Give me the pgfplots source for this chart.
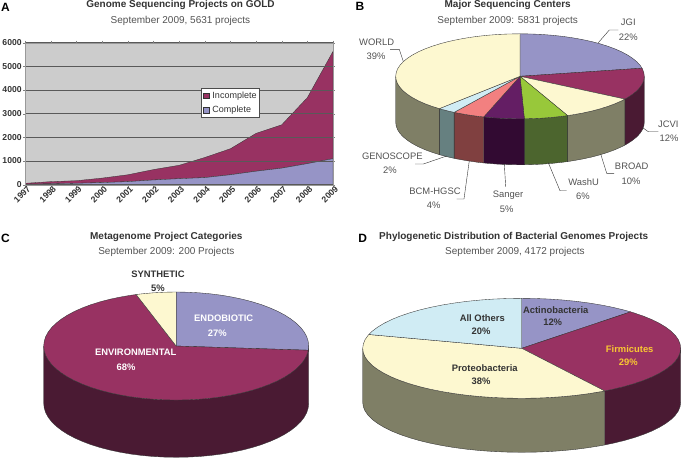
\documentclass[border=0pt]{standalone}
\usepackage{fontspec}
\setmainfont{Liberation Sans}
\usepackage{pgfplots}
\pgfplotsset{compat=1.18}

\definecolor{pblue}{HTML}{9694C6}
\definecolor{maroon}{HTML}{983262}
\definecolor{cream}{HTML}{FDF8D0}
\definecolor{lblue}{HTML}{D0ECF4}
\definecolor{salmon}{HTML}{F28080}
\definecolor{dpurple}{HTML}{641E64}
\definecolor{lime}{HTML}{98C83A}
\definecolor{wolive}{HTML}{7F7F66}
\definecolor{wmaroon}{HTML}{4A1A33}
\definecolor{wpurple}{HTML}{320A32}
\definecolor{wgreen}{HTML}{4C652E}
\definecolor{wsalmon}{HTML}{804040}
\definecolor{wteal}{HTML}{668080}
\definecolor{edge}{HTML}{333333}
\definecolor{txt}{HTML}{333333}

% one pie slice: centre, then the arc on the unit circle
\newcommand{\slice}[2]{\addplot[fill=#1,draw=edge,line width=0.35pt] coordinates {(0,0) #2} -- cycle;}
% side wall: rows are x y flag, flag 1 = on the lower rim (y moved down by the depth \pd)
\newcommand{\wall}[2]{\addplot[fill=#1,draw=edge,line width=0.35pt] table[row sep=\\,header=false,x index=0,y expr=\thisrowno{1}-\pd*\thisrowno{2}] {#2} -- cycle;}
\pgfplotsset{
  pie/.style={hide axis,scale only axis,clip=false,xmin=-1,xmax=1,ymax=1,anchor=north west}
}
\tikzset{
  panel/.style={font=\fontsize{12}{14}\selectfont\bfseries,text=black},
  ttl/.style={font=\fontsize{10}{12}\selectfont\bfseries,text=txt},
  sub/.style={font=\fontsize{10}{12}\selectfont,text=txt!85},
  lab/.style={font=\fontsize{9.4}{11}\selectfont,text=txt!85},
  blab/.style={font=\fontsize{9.4}{11}\selectfont\bfseries,text=txt},
  wlab/.style={font=\fontsize{9.4}{11}\selectfont\bfseries,text=white},
  lead/.style={draw=txt,line width=0.4pt}
}

\begin{document}
\begin{tikzpicture}[x=1pt,y=-1pt]
\path[use as bounding box] (0,0) rectangle (681,458);

% A: area chart
\begin{axis}[
    at={(25.3pt,-42.7pt)},anchor=north west,
    scale only axis,width=307.7pt,height=142pt,
    stack plots=y,area style,
    xmin=1997,xmax=2009,ymin=0,ymax=6000,
    xtick={1997,1998,1999,2000,2001,2002,2003,2004,2005,2006,2007,2008,2009},
    ytick={0,1000,2000,3000,4000,5000,6000},
    /pgf/number format/assume math mode=true,
    /pgf/number format/1000 sep={},
    tick label style={font=\fontsize{8.6}{10}\selectfont\bfseries,text=txt},
    xticklabel style={rotate=45,anchor=north east,inner sep=1pt,xshift=3pt,yshift=1pt},
    yticklabel style={inner sep=1.5pt},
    tick align=outside,major tick length=2pt,
    ytick style={draw=gray},xtick style={draw=gray},
    axis line style={draw=gray!80},
    ymajorgrids,grid style={draw=black!65,line width=0.6pt},
    axis background/.style={fill=black!20},
    legend style={at={(0.571,0.678)},anchor=north west,draw=black!70,fill=white,
      font=\fontsize{9}{10}\selectfont,text=txt,row sep=4.5pt,inner sep=2pt,line width=0.4pt,
      nodes={inner sep=1pt},/tikz/every odd column/.append style={column sep=2.5pt}},
    reverse legend,
    legend cell align=left,
    area legend,
    legend image code/.code={\draw[#1,line width=0.4pt] (0pt,-2.7pt) rectangle (5.4pt,2.7pt);},
  ]
  \addplot[fill=pblue,draw=edge,line width=0.3pt] coordinates {
    (1997,20) (1998,40) (1999,60) (2000,90) (2001,130) (2002,200) (2003,255)
    (2004,300) (2005,420) (2006,570) (2007,700) (2008,890) (2009,1100)} \closedcycle;
  \addplot[fill=maroon,draw=edge,line width=0.3pt] coordinates {
    (1997,40) (1998,90) (1999,110) (2000,190) (2001,290) (2002,440) (2003,565)
    (2004,850) (2005,1100) (2006,1600) (2007,1830) (2008,2790) (2009,4531)} \closedcycle;
  \legend{Complete,Incomplete}
\end{axis}

% B: sequencing centers
\def\pd{1.082}
\begin{axis}[pie,at={(395.7pt,-33.8pt)},width=248.6pt,height=131pt,ymin=-2.082]
  \wall{wmaroon}{1 0 0\\ .996 -.087 0\\ .985 -.174 0\\ .966 -.259 0\\ .940 -.342 0\\ .906 -.423 0\\ .866 -.500 0\\ .844 -.536 0\\ .844 -.536 1\\ .866 -.500 1\\ .906 -.423 1\\ .940 -.342 1\\ .966 -.259 1\\ .985 -.174 1\\ .996 -.087 1\\ 1 0 1\\}
  \wall{wolive}{.844 -.536 0\\ .819 -.574 0\\ .766 -.643 0\\ .707 -.707 0\\ .643 -.766 0\\ .574 -.819 0\\ .500 -.866 0\\ .423 -.906 0\\ .383 -.924 0\\ .383 -.924 1\\ .423 -.906 1\\ .500 -.866 1\\ .574 -.819 1\\ .643 -.766 1\\ .707 -.707 1\\ .766 -.643 1\\ .819 -.574 1\\ .844 -.536 1\\}
  \wall{wgreen}{.383 -.924 0\\ .342 -.940 0\\ .259 -.966 0\\ .174 -.985 0\\ .087 -.996 0\\ .035 -.999 0\\ .035 -.999 1\\ .087 -.996 1\\ .174 -.985 1\\ .259 -.966 1\\ .342 -.940 1\\ .383 -.924 1\\}
  \wall{wpurple}{.035 -.999 0\\ 0 -1 0\\ -.087 -.996 0\\ -.174 -.985 0\\ -.259 -.966 0\\ -.292 -.956 0\\ -.292 -.956 1\\ -.259 -.966 1\\ -.174 -.985 1\\ -.087 -.996 1\\ 0 -1 1\\ .035 -.999 1\\}
  \wall{wsalmon}{-.292 -.956 0\\ -.342 -.940 0\\ -.423 -.906 0\\ -.500 -.866 0\\ -.530 -.848 0\\ -.530 -.848 1\\ -.500 -.866 1\\ -.423 -.906 1\\ -.342 -.940 1\\ -.292 -.956 1\\}
  \wall{wteal}{-.530 -.848 0\\ -.574 -.819 0\\ -.643 -.766 0\\ -.649 -.760 0\\ -.649 -.760 1\\ -.643 -.766 1\\ -.574 -.819 1\\ -.530 -.848 1\\}
  \wall{wolive}{-.649 -.760 0\\ -.707 -.707 0\\ -.766 -.643 0\\ -.819 -.574 0\\ -.866 -.500 0\\ -.906 -.423 0\\ -.940 -.342 0\\ -.966 -.259 0\\ -.985 -.174 0\\ -.996 -.087 0\\ -1 0 0\\ -1 0 1\\ -.996 -.087 1\\ -.985 -.174 1\\ -.966 -.259 1\\ -.940 -.342 1\\ -.906 -.423 1\\ -.866 -.500 1\\ -.819 -.574 1\\ -.766 -.643 1\\ -.707 -.707 1\\ -.649 -.760 1\\}
  \slice{pblue}{(0,1) (.087,.996) (.174,.985) (.259,.966) (.342,.940) (.423,.906) (.500,.866) (.574,.819) (.643,.766) (.707,.707) (.766,.643) (.819,.574) (.866,.500) (.906,.423) (.940,.342) (.966,.259) (.982,.191)}
  \slice{maroon}{(.982,.191) (.985,.174) (.996,.087) (1,0) (.996,-.087) (.985,-.174) (.966,-.259) (.940,-.342) (.906,-.423) (.866,-.500) (.844,-.536)}
  \slice{cream}{(.844,-.536) (.819,-.574) (.766,-.643) (.707,-.707) (.643,-.766) (.574,-.819) (.500,-.866) (.423,-.906) (.383,-.924)}
  \slice{lime}{(.383,-.924) (.342,-.940) (.259,-.966) (.174,-.985) (.087,-.996) (.035,-.999)}
  \slice{dpurple}{(.035,-.999) (0,-1) (-.087,-.996) (-.174,-.985) (-.259,-.966) (-.292,-.956)}
  \slice{salmon}{(-.292,-.956) (-.342,-.940) (-.423,-.906) (-.500,-.866) (-.530,-.848)}
  \slice{lblue}{(-.530,-.848) (-.574,-.819) (-.643,-.766) (-.649,-.760)}
  \slice{cream}{(-.649,-.760) (-.707,-.707) (-.766,-.643) (-.819,-.574) (-.866,-.500) (-.906,-.423) (-.940,-.342) (-.966,-.259) (-.985,-.174) (-.996,-.087) (-1,0) (-.996,.087) (-.985,.174) (-.966,.259) (-.940,.342) (-.906,.423) (-.866,.500) (-.819,.574) (-.766,.643) (-.707,.707) (-.643,.766) (-.574,.819) (-.500,.866) (-.423,.906) (-.342,.940) (-.259,.966) (-.174,.985) (-.087,.996) (0,1)}
\end{axis}

% C: metagenome categories
\def\pd{1.06}
\begin{axis}[pie,at={(43.7pt,-292pt)},width=265pt,height=165.3pt,ymin=-2.06]
  \wall{wmaroon}{1 0 0\\ .996 -.087 0\\ .985 -.174 0\\ .966 -.259 0\\ .940 -.342 0\\ .906 -.423 0\\ .866 -.500 0\\ .819 -.574 0\\ .766 -.643 0\\ .707 -.707 0\\ .643 -.766 0\\ .574 -.819 0\\ .500 -.866 0\\ .423 -.906 0\\ .342 -.940 0\\ .259 -.966 0\\ .174 -.985 0\\ .087 -.996 0\\ 0 -1 0\\ -.087 -.996 0\\ -.174 -.985 0\\ -.259 -.966 0\\ -.342 -.940 0\\ -.423 -.906 0\\ -.500 -.866 0\\ -.574 -.819 0\\ -.643 -.766 0\\ -.707 -.707 0\\ -.766 -.643 0\\ -.819 -.574 0\\ -.866 -.500 0\\ -.906 -.423 0\\ -.940 -.342 0\\ -.966 -.259 0\\ -.985 -.174 0\\ -.996 -.087 0\\ -1 0 0\\ -1 0 1\\ -.996 -.087 1\\ -.985 -.174 1\\ -.966 -.259 1\\ -.940 -.342 1\\ -.906 -.423 1\\ -.866 -.500 1\\ -.819 -.574 1\\ -.766 -.643 1\\ -.707 -.707 1\\ -.643 -.766 1\\ -.574 -.819 1\\ -.500 -.866 1\\ -.423 -.906 1\\ -.342 -.940 1\\ -.259 -.966 1\\ -.174 -.985 1\\ -.087 -.996 1\\ 0 -1 1\\ .087 -.996 1\\ .174 -.985 1\\ .259 -.966 1\\ .342 -.940 1\\ .423 -.906 1\\ .500 -.866 1\\ .574 -.819 1\\ .643 -.766 1\\ .707 -.707 1\\ .766 -.643 1\\ .819 -.574 1\\ .866 -.500 1\\ .906 -.423 1\\ .940 -.342 1\\ .966 -.259 1\\ .985 -.174 1\\ .996 -.087 1\\ 1 0 1\\}
  \slice{pblue}{(0,1) (.087,.996) (.174,.985) (.259,.966) (.342,.940) (.423,.906) (.500,.866) (.574,.819) (.643,.766) (.707,.707) (.766,.643) (.819,.574) (.866,.500) (.906,.423) (.940,.342) (.966,.259) (.985,.174) (.996,.087) (1,0) (.997,-.078)}
  \slice{maroon}{(.997,-.078) (.985,-.174) (.966,-.259) (.940,-.342) (.906,-.423) (.866,-.500) (.819,-.574) (.766,-.643) (.707,-.707) (.643,-.766) (.574,-.819) (.500,-.866) (.423,-.906) (.342,-.940) (.259,-.966) (.174,-.985) (.087,-.996) (0,-1) (-.087,-.996) (-.174,-.985) (-.259,-.966) (-.342,-.940) (-.423,-.906) (-.500,-.866) (-.574,-.819) (-.643,-.766) (-.707,-.707) (-.766,-.643) (-.819,-.574) (-.866,-.500) (-.906,-.423) (-.940,-.342) (-.966,-.259) (-.985,-.174) (-.996,-.087) (-1,0) (-.996,.087) (-.985,.174) (-.966,.259) (-.940,.342) (-.906,.423) (-.866,.500) (-.819,.574) (-.766,.643) (-.707,.707) (-.643,.766) (-.574,.819) (-.500,.866) (-.423,.906) (-.342,.940) (-.302,.953)}
  \slice{cream}{(-.302,.953) (-.259,.966) (-.174,.985) (-.087,.996) (0,1)}
\end{axis}

% D: bacterial phyla
\def\pd{1.08}
\begin{axis}[pie,at={(362.7pt,-298.3pt)},width=318pt,height=154pt,ymin=-2.08]
  \wall{wmaroon}{1 0 0\\ .996 -.087 0\\ .985 -.174 0\\ .966 -.259 0\\ .940 -.342 0\\ .906 -.423 0\\ .866 -.500 0\\ .819 -.574 0\\ .766 -.643 0\\ .707 -.707 0\\ .643 -.766 0\\ .574 -.819 0\\ .522 -.853 0\\ .522 -.853 1\\ .574 -.819 1\\ .643 -.766 1\\ .707 -.707 1\\ .766 -.643 1\\ .819 -.574 1\\ .866 -.500 1\\ .906 -.423 1\\ .940 -.342 1\\ .966 -.259 1\\ .985 -.174 1\\ .996 -.087 1\\ 1 0 1\\}
  \wall{wolive}{.522 -.853 0\\ .500 -.866 0\\ .423 -.906 0\\ .342 -.940 0\\ .259 -.966 0\\ .174 -.985 0\\ .087 -.996 0\\ 0 -1 0\\ -.087 -.996 0\\ -.174 -.985 0\\ -.259 -.966 0\\ -.342 -.940 0\\ -.423 -.906 0\\ -.500 -.866 0\\ -.574 -.819 0\\ -.643 -.766 0\\ -.707 -.707 0\\ -.766 -.643 0\\ -.819 -.574 0\\ -.866 -.500 0\\ -.906 -.423 0\\ -.940 -.342 0\\ -.966 -.259 0\\ -.985 -.174 0\\ -.996 -.087 0\\ -1 0 0\\ -1 0 1\\ -.996 -.087 1\\ -.985 -.174 1\\ -.966 -.259 1\\ -.940 -.342 1\\ -.906 -.423 1\\ -.866 -.500 1\\ -.819 -.574 1\\ -.766 -.643 1\\ -.707 -.707 1\\ -.643 -.766 1\\ -.574 -.819 1\\ -.500 -.866 1\\ -.423 -.906 1\\ -.342 -.940 1\\ -.259 -.966 1\\ -.174 -.985 1\\ -.087 -.996 1\\ 0 -1 1\\ .087 -.996 1\\ .174 -.985 1\\ .259 -.966 1\\ .342 -.940 1\\ .423 -.906 1\\ .500 -.866 1\\ .522 -.853 1\\}
  \slice{pblue}{(0,1) (.087,.996) (.174,.985) (.259,.966) (.342,.940) (.423,.906) (.500,.866) (.574,.819) (.643,.766) (.685,.729)}
  \slice{maroon}{(.685,.729) (.707,.707) (.766,.643) (.819,.574) (.866,.500) (.906,.423) (.940,.342) (.966,.259) (.985,.174) (.996,.087) (1,0) (.996,-.087) (.985,-.174) (.966,-.259) (.940,-.342) (.906,-.423) (.866,-.500) (.819,-.574) (.766,-.643) (.707,-.707) (.643,-.766) (.574,-.819) (.522,-.853)}
  \slice{cream}{(.522,-.853) (.500,-.866) (.423,-.906) (.342,-.940) (.259,-.966) (.174,-.985) (.087,-.996) (0,-1) (-.087,-.996) (-.174,-.985) (-.259,-.966) (-.342,-.940) (-.423,-.906) (-.500,-.866) (-.574,-.819) (-.643,-.766) (-.707,-.707) (-.766,-.643) (-.819,-.574) (-.866,-.500) (-.906,-.423) (-.940,-.342) (-.966,-.259) (-.985,-.174) (-.996,-.087) (-1,0) (-.996,.087) (-.985,.174) (-.966,.259) (-.961,.276)}
  \slice{lblue}{(-.961,.276) (-.940,.342) (-.906,.423) (-.866,.500) (-.819,.574) (-.766,.643) (-.707,.707) (-.643,.766) (-.574,.819) (-.500,.866) (-.423,.906) (-.342,.940) (-.259,.966) (-.174,.985) (-.087,.996) (0,1)}
\end{axis}

% titles
\node[panel] at (5.5,7) {A};
\node[panel] at (360,6.5) {B};
\node[panel] at (5.5,238.5) {C};
\node[panel] at (362.7,238.5) {D};
\node[ttl] at (180.5,4.5) {Genome Sequencing Projects on GOLD};
\node[sub] at (180.5,21) {September 2009, 5631 projects};
\node[ttl] at (507.7,4.5) {Major Sequencing Centers};
\node[sub] at (507.7,20.7) {September 2009: 5831 projects};
\node[ttl] at (166.3,236.7) {Metagenome Project Categories};
\node[sub] at (166.3,252) {September 2009: 200 Projects};
\node[ttl] at (513.7,236.7) {Phylogenetic Distribution of Bacterial Genomes Projects};
\node[sub] at (515,251.7) {September 2009, 4172 projects};

% B labels and leaders
\draw[lead] (598.3,42.7) -- (609.3,30) -- (618.3,30);
\draw[lead] (403.3,61.3) -- (399.3,49.3) -- (390,49.3);
\draw[lead] (642.7,127.7) -- (648.3,131.7) -- (658.3,131.7);
\draw[lead] (600.7,154) -- (606.7,173.3) -- (614,173.3);
\draw[lead] (548.3,162.7) -- (560,190.7) -- (566.7,190.7);
\draw[lead] (504.3,164) -- (505.7,186.7);
\draw[lead] (469.3,160.7) -- (464,199) -- (456.7,199);
\draw[lead] (446.7,156) -- (423.3,164) -- (415,164);
\node[lab] at (628.3,22.7) {JGI};
\node[lab] at (628.3,37.3) {22\%};
\node[lab] at (376.7,42) {WORLD};
\node[lab] at (376,56) {39\%};
\node[lab] at (668.3,124) {JCVI};
\node[lab] at (669,138.7) {12\%};
\node[lab] at (631.7,166.7) {BROAD};
\node[lab] at (631,181) {10\%};
\node[lab] at (583.7,182.3) {WashU};
\node[lab] at (583,196.7) {6\%};
\node[lab] at (508,195.3) {Sanger};
\node[lab] at (506.7,209.3) {5\%};
\node[lab] at (435,191) {BCM-HGSC};
\node[lab] at (433.7,205.3) {4\%};
\node[lab] at (392.3,156.7) {GENOSCOPE};
\node[lab] at (390,170.7) {2\%};

% C labels
\node[blab] at (158,274) {SYNTHETIC};
\node[blab] at (158,288.3) {5\%};
\node[wlab] at (223.7,318.7) {ENDOBIOTIC};
\node[wlab] at (217.3,333.3) {27\%};
\node[wlab] at (135.7,352.7) {ENVIRONMENTAL};
\node[wlab] at (126,367.3) {68\%};

% D labels
\node[blab] at (555.7,310) {Actinobacteria};
\node[blab] at (552.7,322.7) {12\%};
\node[blab,text={rgb,255:red,250;green,200;blue,50}] at (629.7,349.3) {Firmicutes};
\node[blab,text={rgb,255:red,250;green,200;blue,50}] at (628.3,362) {29\%};
\node[blab] at (482.3,318.3) {All Others};
\node[blab] at (481,331.7) {20\%};
\node[blab] at (484.7,368.3) {Proteobacteria};
\node[blab] at (481,381) {38\%};
\end{tikzpicture}
\end{document}
